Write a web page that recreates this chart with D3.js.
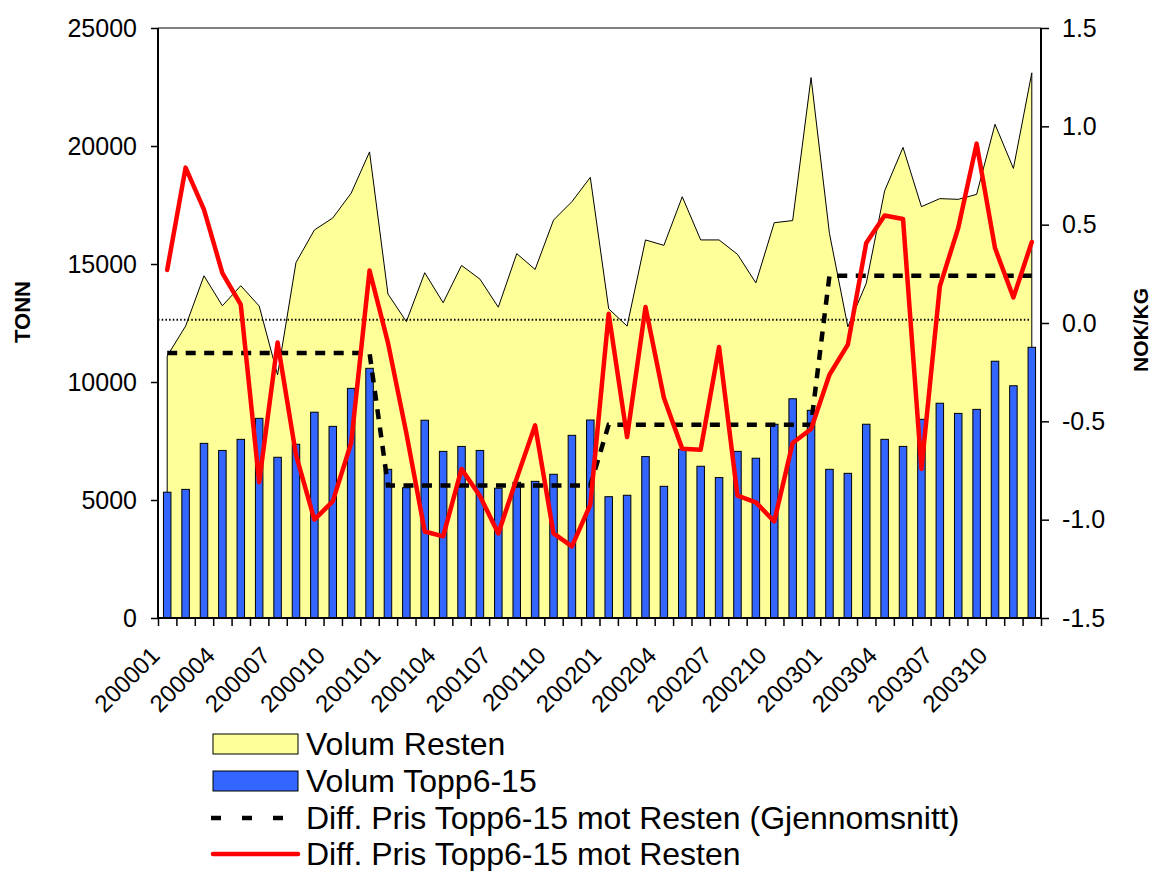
<!DOCTYPE html>
<html><head><meta charset="utf-8">
<script src="https://cdn.jsdelivr.net/npm/d3@7"></script>
<style>
html,body{margin:0;padding:0;background:#fff;}
text{font-family:Arial,"Liberation Sans",sans-serif;fill:#000;}
</style></head>
<body>
<svg id="chart" width="1153" height="871"></svg>
<script>
const months = ["200001","200002","200003","200004","200005","200006","200007","200008","200009","200010","200011","200012",
"200101","200102","200103","200104","200105","200106","200107","200108","200109","200110","200111","200112",
"200201","200202","200203","200204","200205","200206","200207","200208","200209","200210","200211","200212",
"200301","200302","200303","200304","200305","200306","200307","200308","200309","200310","200311","200312"];
const volumResten = [11100,12370,14500,13230,14080,13220,10300,15060,16440,16950,18000,19750,
13730,12560,14630,13360,14940,14360,13170,15440,14770,16860,17640,18670,
13100,12370,16020,15790,17850,16020,16020,15410,14200,16750,16840,22900,
16300,12340,14180,18100,19940,17430,17770,17740,17950,20920,19050,23100];
const volumTopp = [5330,5450,7400,7100,7570,8460,6810,7360,8720,8120,9730,10580,
6300,5520,8380,7060,7270,7100,5500,5750,5790,6090,7740,8390,
5140,5200,6840,5580,7150,6430,5950,7060,6770,8210,9290,8800,
6300,6130,8210,7570,7270,8420,9100,8670,8840,10880,9840,11470];
const diffPris = [0.27,0.79,0.576,0.254,0.093,-0.81,-0.099,-0.67,-1.0,-0.907,-0.61,0.267,
-0.10,-0.56,-1.06,-1.085,-0.742,-0.88,-1.07,-0.79,-0.52,-1.07,-1.136,-0.924,
0.047,-0.58,0.081,-0.38,-0.64,-0.644,-0.122,-0.878,-0.912,-1.009,-0.61,-0.539,
-0.263,-0.11,0.407,0.547,0.529,-0.742,0.186,0.483,0.912,0.381,0.13,0.412];
const diffSnitt = [-0.153,-0.153,-0.153,-0.153,-0.153,-0.153,-0.153,-0.153,-0.153,-0.153,-0.153,-0.153,
-0.826,-0.826,-0.826,-0.826,-0.826,-0.826,-0.826,-0.826,-0.826,-0.826,-0.826,-0.826,
-0.517,-0.517,-0.517,-0.517,-0.517,-0.517,-0.517,-0.517,-0.517,-0.517,-0.517,-0.517,
0.24,0.24,0.24,0.24,0.24,0.24,0.24,0.24,0.24,0.24,0.24,0.24];
const refLine = 0.017;
const leftTicks = [0,5000,10000,15000,20000,25000];
const rightTicks = [-1.5,-1.0,-0.5,0.0,0.5,1.0,1.5];
const xLabels = ["200001","200004","200007","200010","200101","200104","200107","200110","200201","200204","200207","200210","200301","200304","200307","200310"];
const legendItems = ["Volum Resten","Volum Topp6-15","Diff. Pris Topp6-15 mot Resten (Gjennomsnitt)","Diff. Pris Topp6-15 mot Resten"];

const L=158, R=1041, T=28, B=618;
const svg = d3.select("#chart");
const x = d3.scaleBand().domain(months).range([L,R]).padding(0);
const cx = m => x(m) + x.bandwidth()/2;
const xi = d3.scaleLinear().domain([0,months.length]).range([L,R]);
const yL = d3.scaleLinear().domain([0,25000]).range([B,T]);
const yR = d3.scaleLinear().domain([-1.5,1.5]).range([B,T]);

// plot border top
svg.append("line").attr("x1",L).attr("x2",R).attr("y1",T).attr("y2",T).attr("stroke","#808080").attr("stroke-width",2);

// area
const area = d3.area().x((d,i)=>cx(months[i])).y0(yL(0)).y1(d=>yL(d));
svg.append("path").datum(volumResten).attr("d",area).attr("fill","#FFFF99").attr("stroke","#000").attr("stroke-width",1);

// dotted reference
svg.append("line").attr("x1",L).attr("x2",R-10).attr("y1",yR(refLine)).attr("y2",yR(refLine))
  .attr("stroke","#000").attr("stroke-width",2).attr("stroke-dasharray","1.5,2.2");

// bars
const bw = 7.5;
svg.append("g").selectAll("rect").data(volumTopp).join("rect")
  .attr("x",(d,i)=>cx(months[i])-bw/2).attr("width",bw)
  .attr("y",d=>yL(d)).attr("height",d=>yL(0)-yL(d))
  .attr("fill","#3366FF").attr("stroke","#000").attr("stroke-width",1);

// dashed avg
const lineR = d3.line().x((d,i)=>cx(months[i])).y(d=>yR(d));
svg.append("path").datum(diffSnitt).attr("d",lineR).attr("fill","none").attr("stroke","#000")
  .attr("stroke-width",4.5).attr("stroke-dasharray","10,8.5");

// red line
svg.append("path").datum(diffPris).attr("d",lineR).attr("fill","none").attr("stroke","#FF0000")
  .attr("stroke-width",4.5).attr("stroke-linejoin","round").attr("stroke-linecap","round");

// axes
const axL = svg.append("g").attr("transform",`translate(${L},0)`)
  .call(d3.axisLeft(yL).tickValues(leftTicks).tickSize(7).tickPadding(14).tickFormat(d3.format("d")));
const axR = svg.append("g").attr("transform",`translate(${R},0)`)
  .call(d3.axisRight(yR).tickValues(rightTicks).tickSize(8).tickPadding(13).tickFormat(d=>d3.format(".1f")(d).replace("−","-")));
const axB = svg.append("g").attr("transform",`translate(0,${B})`)
  .call(d3.axisBottom(xi).tickValues(d3.range(months.length+1)).tickSize(8).tickFormat(""));
[axL,axR,axB].forEach(a=>{
  a.select(".domain").attr("stroke","#000").attr("stroke-width",2);
  a.selectAll(".tick line").attr("stroke","#000").attr("stroke-width",1.5);
  a.selectAll("text").style("font-size","25px").attr("font-family","Arial, Liberation Sans, sans-serif").attr("fill","#000");
});
axL.select(".domain").attr("d",`M0,${T}V${B}`);
axR.select(".domain").attr("d",`M0,${T}V${B}`);
axB.select(".domain").attr("d",`M${L},0H${R}`);

// x labels
svg.append("g").selectAll("text").data(xLabels).join("text")
  .attr("transform",d=>`translate(${cx(d)-6},657) rotate(-45)`)
  .attr("text-anchor","end").style("font-size","24px").text(d=>d);

// axis titles
svg.append("text").attr("transform","translate(30,312) rotate(-90)").attr("text-anchor","middle")
  .style("font-size","22px").style("font-weight","bold").text("TONN");
svg.append("text").attr("transform","translate(1148,330) rotate(-90)").attr("text-anchor","middle")
  .style("font-size","21px").style("font-weight","bold").text("NOK/KG");

// legend
const lg = svg.append("g");
const rows = [744,781,818,854];
const lx = 213, lw = 85;
lg.append("rect").attr("x",lx).attr("y",rows[0]-10).attr("width",lw).attr("height",20).attr("fill","#FFFF99").attr("stroke","#000").attr("stroke-width",1);
lg.append("rect").attr("x",lx).attr("y",rows[1]-10).attr("width",lw).attr("height",20).attr("fill","#3366FF").attr("stroke","#000").attr("stroke-width",1);
lg.append("line").attr("x1",lx-2).attr("x2",lx+lw).attr("y1",rows[2]).attr("y2",rows[2]).attr("stroke","#000").attr("stroke-width",4.5).attr("stroke-dasharray","10,21");
lg.append("line").attr("x1",lx).attr("x2",lx+lw).attr("y1",rows[3]).attr("y2",rows[3]).attr("stroke","#FF0000").attr("stroke-width",4.5).attr("stroke-linecap","round");
lg.selectAll("text").data(legendItems).join("text")
  .attr("x",306).attr("y",(d,i)=>rows[i]+11).style("font-size","32px").text(d=>d);
</script>
</body></html>
